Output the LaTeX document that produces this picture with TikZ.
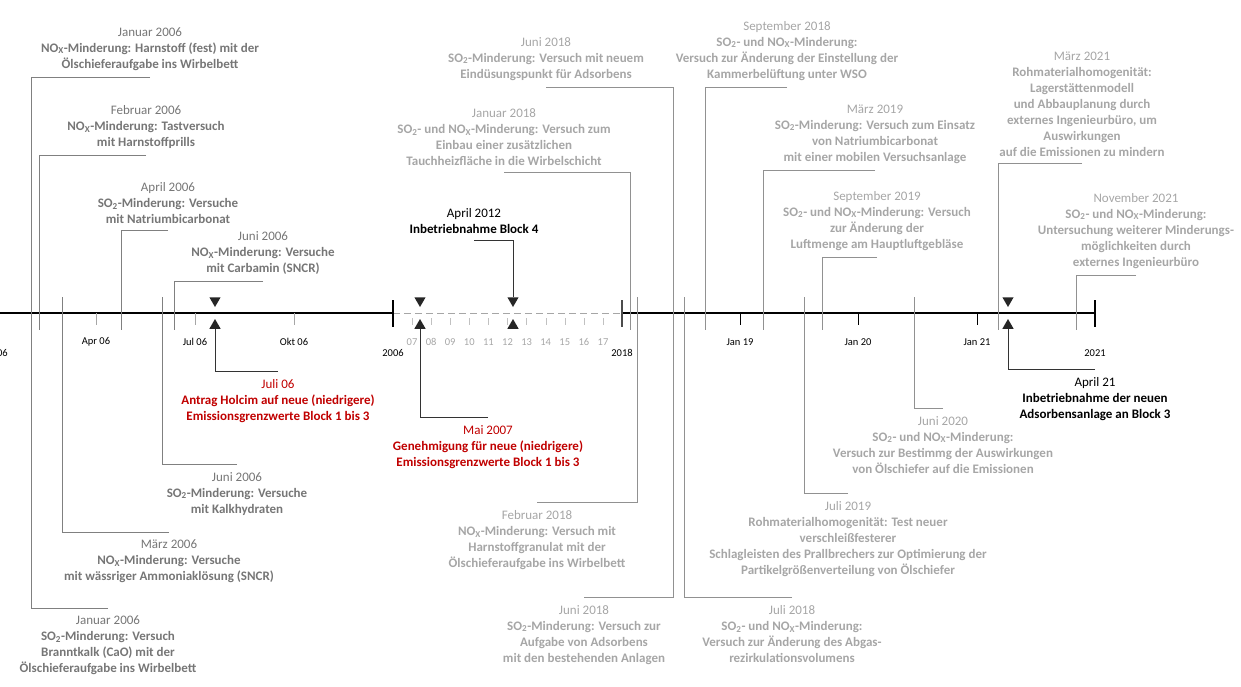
\documentclass[tikz,border=0pt]{standalone}
\usepackage{fontspec}
\setmainfont{Carlito}
\usetikzlibrary{shapes.geometric, positioning}
\definecolor{oldgray}{RGB}{118,118,118}
\definecolor{newgray}{RGB}{166,166,166}
\definecolor{oldline}{RGB}{128,128,128}
\definecolor{newline}{RGB}{145,145,145}
\definecolor{redtxt}{RGB}{192,0,0}
\newcommand{\NOx}{NO\textsubscript{X}}
\newcommand{\SOz}{SO\textsubscript{2}}

\begin{document}
\begin{tikzpicture}[x=1pt, y=-1pt,
  evt/.style={align=center, inner xsep=0pt, font=\fontsize{13}{16}\selectfont\bfseries},
  oldevt/.style={evt, text=oldgray},
  newevt/.style={evt, text=newgray},
  upper/.style={anchor=south, inner ysep=6.5pt},
  lower/.style={anchor=north, inner ysep=8pt},
  oldlink/.style={draw=oldline, line width=0.9pt},
  newlink/.style={draw=newline, line width=0.9pt},
  keylink/.style={draw=black!80, line width=1pt},
  tickfont/.style={font=\fontsize{10.5}{12}\selectfont, inner sep=0pt},
  tridown/.style={regular polygon, regular polygon sides=3, shape border rotate=180,
    fill=black!85, minimum size=13pt, inner sep=0pt},
  triup/.style={regular polygon, regular polygon sides=3,
    fill=black!85, minimum size=13pt, inner sep=0pt}]
\useasboundingbox (0,0) rectangle (1241,686);

% time axis
\draw [line width=1.1pt] (-10,313) -- (393,313);
\draw [newgray, line width=1pt, dash pattern=on 7pt off 4pt] (393,313) -- (622,313);
\draw [line width=1.1pt] (622,313) -- (1095,313);
\draw [line width=1.1pt] (393,300) -- (393,327);
\draw [black!70, line width=1.8pt] (622,300) -- (622,327);
\draw [line width=1.1pt] (1095,300) -- (1095,327);
\foreach \x/\t in {96/Apr 06, 195/Jul 06, 294/Okt 06} {
  \draw [oldline!70] (\x,313) -- (\x,325);
  \node [tickfont] at (\x,342) {\t};
}
\foreach \k in {7,...,17} {
  \pgfmathsetmacro{\x}{412+(\k-7)*19.1}
  \draw [newgray!70] (\x,318) -- (\x,325);
  \node [tickfont, text=newgray] at (\x,342) {\ifnum\k<10 0\fi\k};
}
\foreach \x/\t in {740/Jan 19, 858/Jan 20, 977/Jan 21} {
  \draw [line width=1pt] (\x,313) -- (\x,325);
  \node [tickfont] at (\x,342) {\t};
}
\node [tickfont] at (-3,353) {2006};
\node [tickfont] at (393,353) {2006};
\node [tickfont] at (622,353) {2018};
\node [tickfont] at (1095,353) {2021};

% events above the axis
\node [oldevt, upper] (jan06a) at (150,77) {{\mdseries Januar 2006}\\\NOx-Minderung: Harnstoff (fest) mit der\\Ölschieferaufgabe ins Wirbelbett};
\node [oldevt, upper] (feb06) at (146,155) {{\mdseries Februar 2006}\\\NOx-Minderung: Tastversuch\\mit Harnstoffprills};
\node [oldevt, upper] (apr06) at (168,230) {{\mdseries April 2006}\\\SOz-Minderung: Versuche\\mit Natriumbicarbonat};
\node [oldevt, upper] (jun06a) at (263,281) {{\mdseries Juni 2006}\\\NOx-Minderung: Versuche\\mit Carbamin (SNCR)};
\node [newevt, upper] (jun18a) at (546,87) {{\mdseries Juni 2018}\\\SOz-Minderung: Versuch mit neuem\\Eindüsungspunkt für Adsorbens};
\node [newevt, upper] (jan18) at (504,172) {{\mdseries Januar 2018}\\\SOz- und \NOx-Minderung: Versuch zum\\Einbau einer zusätzlichen\\Tauchheizfläche in die Wirbelschicht};
\node [newevt, upper] (sep18) at (787,87) {{\mdseries September 2018}\\\SOz- und \NOx-Minderung:\\Versuch zur Änderung der Einstellung der\\Kammerbelüftung unter WSO};
\node [newevt, upper] (mar19) at (875,170) {{\mdseries März 2019}\\\SOz-Minderung: Versuch zum Einsatz\\von Natriumbicarbonat\\mit einer mobilen Versuchsanlage};
\node [newevt, upper] (sep19) at (877,257) {{\mdseries September 2019}\\\SOz- und \NOx-Minderung: Versuch\\zur Änderung der\\Luftmenge am Hauptluftgebläse};
\node [newevt, upper] (mar21) at (1082,163) {{\mdseries März 2021}\\Rohmaterialhomogenität:\\Lagerstättenmodell\\und Abbauplanung durch\\externes Ingenieurbüro, um\\Auswirkungen\\auf die Emissionen zu mindern};
\node [newevt, upper] (nov21) at (1136,275) {{\mdseries November 2021}\\\SOz- und \NOx-Minderung:\\Untersuchung weiterer Minderungs-\\möglichkeiten durch\\externes Ingenieurbüro};

% events below the axis
\node [oldevt, lower] (jan06b) at (108,608) {{\mdseries Januar 2006}\\\SOz-Minderung: Versuch\\Branntkalk (CaO) mit der\\Ölschieferaufgabe ins Wirbelbett};
\node [oldevt, lower] (mar06) at (169,532) {{\mdseries März 2006}\\\NOx-Minderung: Versuche\\mit wässriger Ammoniaklösung (SNCR)};
\node [oldevt, lower] (jun06b) at (237,464) {{\mdseries Juni 2006}\\\SOz-Minderung: Versuche\\mit Kalkhydraten};
\node [newevt, lower] (feb18) at (537,502) {{\mdseries Februar 2018}\\\NOx-Minderung: Versuch mit\\Harnstoffgranulat mit der\\Ölschieferaufgabe ins Wirbelbett};
\node [newevt, lower] (jun18b) at (584,597) {{\mdseries Juni 2018}\\\SOz-Minderung: Versuch zur\\Aufgabe von Adsorbens\\mit den bestehenden Anlagen};
\node [newevt, lower] (jul18) at (792,597) {{\mdseries Juli 2018}\\\SOz- und \NOx-Minderung:\\Versuch zur Änderung des Abgas-\\rezirkulationsvolumens};
\node [newevt, lower] (jul19) at (848,493) {{\mdseries Juli 2019}\\Rohmaterialhomogenität: Test neuer\\verschleißfesterer\\Schlagleisten des Prallbrechers zur Optimierung der\\Partikelgrößenverteilung von Ölschiefer};
\node [newevt, lower] (jun20) at (943,408) {{\mdseries Juni 2020}\\\SOz- und \NOx-Minderung:\\Versuch zur Bestimmg der Auswirkungen\\von Ölschiefer auf die Emissionen};

\foreach \n/\x in {jan06a/31, feb06/39, apr06/121, jun06a/174} {
  \coordinate (\n-ax) at (\x,330);
  \draw [oldlink] (\n.south) -| (\n-ax);
}
\foreach \n/\x in {jun18a/673, jan18/630, sep18/705, mar19/763, sep19/822, mar21/998, nov21/1076} {
  \coordinate (\n-ax) at (\x,330);
  \draw [newlink] (\n.south) -| (\n-ax);
}
\foreach \n/\x in {jan06b/31, mar06/62, jun06b/162} {
  \coordinate (\n-ax) at (\x,297);
  \draw [oldlink] (\n.north) -| (\n-ax);
}
\foreach \n/\x in {feb18/637, jun18b/673, jul18/684, jul19/804, jun20/914} {
  \coordinate (\n-ax) at (\x,297);
  \draw [newlink] (\n.north) -| (\n-ax);
}

% key dates
\foreach \n/\x in {jul06/215, mai07/420, apr12/513, apr21/1008} {
  \node [tridown] (\n-dn) at (\x,300.5) {};
  \node [triup] (\n-up) at (\x,325.5) {};
}
\node [evt, lower, text=redtxt] (jul06) at (278,371) {{\mdseries Juli 06}\\Antrag Holcim auf neue (niedrigere)\\Emissionsgrenzwerte Block 1 bis 3};
\node [evt, lower, text=redtxt] (mai07) at (488,417) {{\mdseries Mai 2007}\\Genehmigung für neue (niedrigere)\\Emissionsgrenzwerte Block 1 bis 3};
\node [evt, upper, text=black] (apr12) at (474,240) {{\mdseries April 2012}\\Inbetriebnahme Block 4};
\node [evt, lower, text=black] (apr21) at (1095,369) {{\mdseries April 21}\\Inbetriebnahme der neuen\\Adsorbensanlage an Block 3};
\draw [keylink] (jul06.north) -| (jul06-up.south);
\draw [keylink] (mai07.north) -| (mai07-up.south);
\draw [keylink] (apr12.south) -| (apr12-dn.north);
\draw [keylink] (apr21.north) -| (apr21-up.south);
\end{tikzpicture}
\end{document}
